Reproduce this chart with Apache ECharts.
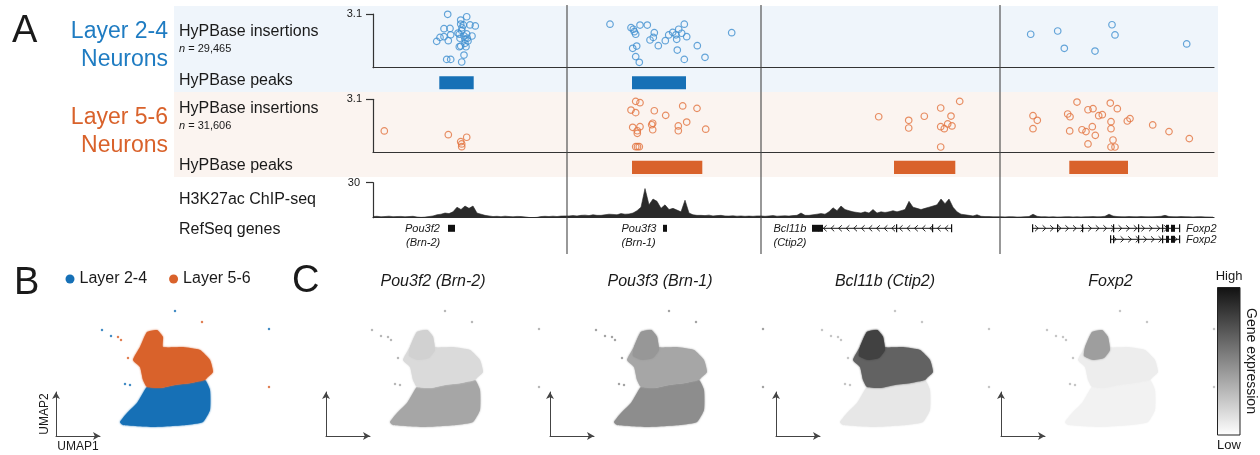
<!DOCTYPE html>
<html>
<head>
<meta charset="utf-8">
<title>HyPBase insertions in cortical layers</title>
<script src="https://cdn.jsdelivr.net/npm/echarts@6/dist/echarts.min.js"></script>
<style>
  html, body { margin: 0; padding: 0; background: #fff; }
  #chart { width: 1260px; height: 455px; }
</style>
</head>
<body>
<div id="chart"></div>
<script>
// ---------- data ----------
// track position (0 - 841), four loci; loci are separated at these positions
const trackMax = 841;
const locusBreaks = [194, 388, 627];

// HyPBase insertions, [position, value]
const l24Insertions = [
  [74.7, 3.08], [93.7, 2.94], [87.7, 2.75], [97, 2.47], [102.3, 2.41], [71, 2.25], [77, 2.27],
  [87.7, 2.52], [90.3, 2.47], [88.7, 2.14], [77.7, 1.9], [86.3, 1.93], [93.7, 1.95], [99, 1.83],
  [67, 1.75], [71, 1.79], [63.7, 1.52], [75.3, 1.56], [87, 1.7], [92, 1.64], [94.3, 1.7],
  [92, 1.41], [87.7, 1.25], [86.3, 1.21], [93, 1.21], [91, 0.73], [73.7, 0.48], [77.7, 0.48],
  [88.7, 0.33], [89, 2.3], [85, 2.0], [91, 1.83], [95, 1.54],
  [237, 2.51], [258, 2.31], [260.3, 2.22], [267, 2.46], [274.3, 2.46], [261.3, 2.08], [262.7, 1.93],
  [281.3, 2.02], [280.3, 1.75], [277, 1.6], [285.3, 1.27], [292.3, 1.56], [295.7, 1.89], [299.7, 2.04],
  [303, 1.9], [303.7, 1.64], [305.7, 2.22], [308.7, 1.99], [311.3, 2.51], [313.7, 1.79], [304.3, 1.02],
  [324.3, 1.27], [332, 0.6], [311.3, 0.48], [358.7, 2.02], [259.7, 1.12], [263.7, 1.25], [262.7, 0.64],
  [266.3, 0.31],
  [657.7, 1.93], [684.7, 2.12], [691.3, 1.12], [722, 0.96], [739, 2.48], [742, 1.89], [813.7, 1.37]
];
const l56Insertions = [
  [11.3, 1.25], [75.3, 1.03], [93.7, 0.88], [87.7, 0.62], [88.7, 0.49], [88.7, 0.33],
  [262.7, 2.98], [267, 2.9], [258, 2.47], [262.7, 2.32], [281.3, 2.43], [292.7, 2.16], [309.7, 2.71],
  [324, 2.57], [313.7, 1.77], [279.7, 1.7], [278.7, 1.61], [259.7, 1.46], [267, 1.5], [264.3, 1.26],
  [264.3, 1.11], [279.7, 1.32], [305.3, 1.54], [305.3, 1.26], [332.7, 1.35], [262.7, 0.33],
  [266.3, 0.33], [264.5, 0.33],
  [505.7, 2.08], [535.7, 1.87], [535.7, 1.42], [551.3, 2.11], [567.7, 2.59], [586.7, 2.98], [578, 2.12],
  [567.7, 1.5], [571.3, 1.38], [574.7, 1.66], [579, 1.54], [567.7, 0.31],
  [660, 2.14], [664.3, 1.87], [660, 1.38], [694.7, 2.24], [697, 2.08], [704, 2.94], [715, 2.49],
  [720, 2.55], [725.7, 2.14], [729.3, 2.2], [737.3, 2.88], [744.3, 2.55], [738, 1.79], [738, 1.38],
  [754.3, 1.83], [757, 1.97], [696.7, 1.25], [709, 1.32], [713, 1.21], [719.3, 1.5], [722.3, 0.99],
  [715, 0.49], [740, 0.72], [738, 0.31], [742, 0.31], [779.7, 1.6], [796, 1.21], [816.3, 0.8]
];

// HyPBase peaks, [start, end]
const l24Peaks = [[66.3, 100.7], [259, 313]];
const l56Peaks = [[259, 329.3], [521, 582.3], [696.3, 755]];

// H3K27ac ChIP-seq signal, one bin every chipStep positions
const chipStep = 4;
const chipSignal = [
  1, 1.2, 0.8, 1, 1.3, 0.9, 1, 1.1, 0.8, 1, 1.2, 0.6,
  0.3, 0.5, 1,
  1.5, 2.5, 3, 4, 3.5, 5, 9, 7, 10, 8, 10, 4, 3, 2, 1.5,
  1, 1.2, 0.9, 1.3, 1, 0.8, 1.1, 1, 0.7,
  0.2, 0.1, 0.3,
  1, 1.2, 1, 1.3, 1, 1.4, 1.5,
  1.5, 1.8, 1.5, 2, 2.2, 1.8, 2.5, 2,
  2, 2.5, 3, 2.8, 2.5, 3.5, 3, 3.2, 4, 6,
  9, 25, 11, 16, 14, 8, 11, 7, 8, 6.5, 5, 15, 4, 2.5, 2,
  2, 1.8, 2.2, 1.5, 1.8, 2, 1.5, 1.4, 1.6, 1.3, 1.5, 1.2, 1.4, 1.2, 1.5,
  1.5, 1.2, 1.5, 1.8, 1.3, 1.5, 1.6, 1.4, 1.8, 2, 4, 2,
  2, 2.5, 3, 3.5, 3, 5, 8.5, 6,
  10, 7, 6, 5, 4.5, 4, 5, 4, 7, 4,
  5, 4.5, 5, 6, 5, 6, 7, 14, 9, 8,
  7, 8, 9, 10, 11, 16, 12, 16, 9, 5,
  3, 2.5, 2, 1.5, 2.5, 1.2, 1, 1, 0.8, 0.8,
  0.8, 0.7, 0.9, 0.8, 0.6, 0.7, 0.9, 1, 3, 1.2,
  0.8, 0.9, 0.7, 0.8, 0.6, 0.7, 0.8, 0.9, 0.7, 0.8,
  0.7, 0.8, 0.9, 1, 0.8, 0.9, 1.2, 3, 1.4, 1,
  0.9, 0.8, 1, 0.9, 0.8, 1, 0.9, 0.8, 0.9, 1,
  1.2, 2, 1, 0.9, 0.8, 1, 0.9, 0.8, 0.7, 0.8, 0.9, 0.7, 0.6, 0.5
];

// RefSeq genes
const genes = [
  { row: 0, start: 75, end: 82, strand: -1, exons: [], thick: [[75, 82]] },
  { row: 0, start: 290, end: 294, strand: 1, exons: [], thick: [[290, 294]] },
  { row: 0, start: 439, end: 579, strand: -1, exons: [[523, 524], [559, 560], [578, 579]], thick: [[439, 450]] },
  { row: 0, start: 659, end: 807, strand: 1, exons: [[659, 660], [684, 685], [709, 710], [740, 741], [765, 766], [789, 790], [806, 807]], thick: [[793, 796], [798, 802]] },
  { row: 1, start: 737, end: 807, strand: 1, exons: [[737, 738], [740, 741], [765, 766], [789, 790], [806, 807]], thick: [[793, 796], [798, 802]] }
];

// UMAP embedding outlines, [UMAP1, UMAP2]
const umapUpper = [ // Layer 5-6 cells
  [8.4, 8.9], [9.1, 10.4], [10.1, 10.6], [10.7, 9.9], [10.7, 8.9], [12.7, 8.9], [14.4, 8.6], [15.4, 7.6],
  [15.7, 6.4], [15.1, 5.8], [14.9, 5.6], [13.5, 5.3], [11.9, 5.1], [10.5, 4.8], [9.1, 4.9], [8.7, 5.6],
  [8.4, 6.9], [7.7, 7.6]
];
const umapLower = [ // Layer 2-4 cells
  [9.1, 4.9], [10.5, 4.8], [11.9, 5.1], [13.5, 5.3], [14.9, 5.6], [15.4, 4.6], [15.4, 2.6], [14.7, 1.4],
  [13.1, 1.1], [9.7, 0.9], [6.7, 1.1], [6.4, 1.4], [7.1, 2.3], [8.1, 3.3], [8.7, 4.3]
];
const umapBump = [
  [8.4, 8.9], [9.1, 10.4], [10.1, 10.6], [10.7, 9.9], [10.9, 8.6], [10.3, 7.8], [9.2, 7.6], [8.3, 8.0]
];
const strayL24 = [[4.6, 10.6], [11.9, 12.5], [21.3, 10.7], [6.9, 5.2], [7.4, 5.1], [5.5, 10.0]];
const strayL56 = [[6.2, 9.9], [6.5, 9.6], [14.6, 11.4], [21.3, 4.9], [7.2, 7.8]];

// gene expression (0 = low, 1 = high) per UMAP region
const exprGenes = ['Pou3f2 (Brn-2)', 'Pou3f3 (Brn-1)', 'Bcl11b (Ctip2)', 'Foxp2'];
const exprLower = [0.38, 0.5, 0.08, 0.03];
const exprUpper = [0.14, 0.38, 0.7, 0.05];
const exprBump = [0.18, 0.45, 0.85, 0.42];

// ---------- chart ----------
const FONT = "'Liberation Sans', Arial, Helvetica, sans-serif";
const INK = '#1a1a1a';
const BLUE = '#1670b6', ORANGE = '#d9622b';
const BLUE_PT = '#3f8fcf', ORANGE_PT = '#e2733f';

function gray(level) {
  const v = Math.round(248 - level * 215);
  return 'rgb(' + v + ',' + v + ',' + v + ')';
}

const grids = [
  { left: 373, top: 14, width: 841, height: 53.7 },   // 0 layer 2-4 insertions
  { left: 373, top: 76.3, width: 841, height: 13 },   // 1 layer 2-4 peaks
  { left: 373, top: 99.3, width: 841, height: 53 },   // 2 layer 5-6 insertions
  { left: 373, top: 160.7, width: 841, height: 13.3 },// 3 layer 5-6 peaks
  { left: 373, top: 182.7, width: 841, height: 35 },  // 4 ChIP-seq
  { left: 373, top: 222.8, width: 841, height: 22 },  // 5 genes
  { left: 373, top: 5, width: 841, height: 249 }      // 6 locus separators
];
const umapLefts = [56, 326, 550, 776, 1001];
umapLefts.forEach(l => grids.push({ left: l, top: 392, width: 44, height: 44 }));

const xAxes = [], yAxes = [];
for (let i = 0; i < 7; i++) {
  const shown = i === 0 || i === 2 || i === 4;
  xAxes.push({
    gridIndex: i, type: 'value', min: 0, max: trackMax, show: shown,
    axisLine: { show: true, onZero: false, lineStyle: { color: '#333', width: 1.2 } },
    axisTick: { show: false }, axisLabel: { show: false }, splitLine: { show: false }
  });
}
function trackY(gridIndex, max, margin) {
  return {
    gridIndex, type: 'value', min: 0, max: max,
    axisLine: { show: true, lineStyle: { color: '#333', width: 1.2 } },
    axisTick: { show: true, length: 7, customValues: [max], lineStyle: { color: '#333', width: 1.2 } },
    axisLabel: { show: true, customValues: [max], fontSize: 11, color: INK, margin: margin, fontFamily: FONT },
    splitLine: { show: false }
  };
}
function hiddenY(gridIndex, max, inverse) {
  return { gridIndex, type: 'value', min: 0, max: max, inverse: !!inverse, show: false, splitLine: { show: false } };
}
yAxes.push(trackY(0, 3.1, 11), hiddenY(1, 1), trackY(2, 3.1, 11), hiddenY(3, 1), trackY(4, 30, 13), hiddenY(5, 2, true), hiddenY(6, 1));

umapLefts.forEach((l, k) => {
  const axisStyle = {
    type: 'value', gridIndex: 7 + k, min: 0, max: 4.4,
    axisLine: { show: true, onZero: false, symbol: ['none', 'arrow'], symbolSize: [6, 7], lineStyle: { color: '#444', width: 1 } },
    axisTick: { show: false }, axisLabel: { show: false }, splitLine: { show: false },
    nameLocation: 'middle', nameTextStyle: { fontSize: 12, color: INK, fontFamily: FONT }
  };
  xAxes.push(Object.assign({}, axisStyle, { name: k === 0 ? 'UMAP1' : '', nameGap: 5 }));
  yAxes.push(Object.assign({}, axisStyle, { name: k === 0 ? 'UMAP2' : '', nameGap: 5 }));
});

const series = [];

// insertions
function insertionSeries(gridIndex, data, color) {
  return {
    type: 'scatter', xAxisIndex: gridIndex, yAxisIndex: gridIndex, data: data,
    symbol: 'circle', symbolSize: 6.5,
    itemStyle: { color: 'rgba(0,0,0,0)', borderColor: color, borderWidth: 1.2 },
    z: 4
  };
}
series.push(insertionSeries(0, l24Insertions, BLUE_PT));
series.push(insertionSeries(2, l56Insertions, ORANGE_PT));

// peaks
function peakSeries(gridIndex, peaks, color) {
  return {
    type: 'custom', xAxisIndex: gridIndex, yAxisIndex: gridIndex, data: peaks,
    renderItem: function (params, api) {
      const p0 = api.coord([api.value(0), 1]);
      const p1 = api.coord([api.value(1), 0]);
      return {
        type: 'rect',
        shape: { x: p0[0], y: p0[1], width: p1[0] - p0[0], height: p1[1] - p0[1] },
        style: { fill: color }
      };
    }
  };
}
series.push(peakSeries(1, l24Peaks, BLUE));
series.push(peakSeries(3, l56Peaks, ORANGE));

// ChIP-seq
series.push({
  type: 'line', xAxisIndex: 4, yAxisIndex: 4,
  data: chipSignal.map((v, i) => [i * chipStep, v]),
  symbol: 'none', lineStyle: { color: '#2a2a2a', width: 0.6 },
  areaStyle: { color: '#2a2a2a', opacity: 1 }
});

// genes
series.push({
  type: 'custom', xAxisIndex: 5, yAxisIndex: 5,
  data: genes.map((g, i) => [g.start, g.row + 0.5, i]),
  renderItem: function (params, api) {
    const g = genes[api.value(2)];
    const y = api.coord([0, g.row + 0.5])[1];
    const x0 = api.coord([g.start, 0])[0];
    const x1 = api.coord([g.end, 0])[0];
    const stroke = '#111';
    const children = [{ type: 'line', shape: { x1: x0, y1: y, x2: x1, y2: y }, style: { stroke: stroke, lineWidth: 1 } }];
    if (x1 - x0 > 20) {
      for (let x = x0 + 5; x < x1 - 3; x += 7.6) {
        const d = g.strand > 0 ? -2 : 2;
        children.push({
          type: 'polyline',
          shape: { points: [[x + d, y - 3], [x - d * 0.6, y], [x + d, y + 3]] },
          style: { stroke: stroke, lineWidth: 0.9, fill: null }
        });
      }
    }
    g.exons.forEach(e => {
      const a = api.coord([e[0], 0])[0], b = api.coord([e[1], 0])[0];
      children.push({ type: 'rect', shape: { x: a, y: y - 4, width: Math.max(1.2, b - a), height: 8 }, style: { fill: stroke } });
    });
    g.thick.forEach(e => {
      const a = api.coord([e[0], 0])[0], b = api.coord([e[1], 0])[0];
      children.push({ type: 'rect', shape: { x: a, y: y - 3.5, width: b - a, height: 7 }, style: { fill: stroke } });
    });
    return { type: 'group', children: children };
  }
});

// locus separators
series.push({
  type: 'custom', xAxisIndex: 6, yAxisIndex: 6,
  data: locusBreaks.map(b => [b, 0]),
  renderItem: function (params, api) {
    const top = api.coord([api.value(0), 1]);
    const bottom = api.coord([api.value(0), 0]);
    return { type: 'line', shape: { x1: top[0], y1: top[1], x2: bottom[0], y2: bottom[1] }, style: { stroke: '#444', lineWidth: 1.1 } };
  },
  z: 3
});

// UMAP polygons
function polygonSeries(name, gridIndex, polys, colors) {
  return {
    type: 'custom', name: name, xAxisIndex: gridIndex, yAxisIndex: gridIndex, clip: false,
    itemStyle: { color: colors[0] },
    data: polys.map((p, i) => [1, 1, i]),
    renderItem: function (params, api) {
      const i = api.value(2);
      return {
        type: 'polygon',
        shape: { points: polys[i].map(pt => api.coord(pt)), smooth: 0.15 },
        style: { fill: colors[i], shadowBlur: 2, shadowColor: colors[i] }
      };
    }
  };
}
function straySeries(name, gridIndex, data, color) {
  return {
    type: 'scatter', name: name, xAxisIndex: gridIndex, yAxisIndex: gridIndex, data: data,
    symbolSize: 2.5, itemStyle: { color: color }, clip: false
  };
}
series.push(polygonSeries('Layer 2-4', 7, [umapLower], [BLUE]));
series.push(polygonSeries('Layer 5-6', 7, [umapUpper], [ORANGE]));
series.push(straySeries('Layer 2-4', 7, strayL24, BLUE));
series.push(straySeries('Layer 5-6', 7, strayL56, ORANGE));

exprGenes.forEach((g, k) => {
  const gi = 8 + k;
  series.push(polygonSeries(g, gi, [umapLower, umapUpper, umapBump],
    [gray(exprLower[k]), gray(exprUpper[k]), gray(exprBump[k])]));
  series.push(straySeries(g + ' outliers', gi, strayL24.concat(strayL56), gray(Math.max(exprLower[k], 0.3))));
});

// ---------- text and decorations ----------
function txt(text, x, y, opts) {
  return {
    type: 'text', x: x, y: y, silent: true, z: 10,
    rotation: (opts && opts.rotation) || 0,
    style: Object.assign({
      text: text, fill: INK, font: '16px ' + FONT, textAlign: 'left', verticalAlign: 'middle'
    }, opts && opts.style)
  };
}
const italic = s => ({ font: 'italic ' + s + 'px ' + FONT });
const graphic = [
  { type: 'rect', shape: { x: 174, y: 6, width: 1044, height: 86 }, style: { fill: '#eff5fb' }, z: -10, silent: true },
  { type: 'rect', shape: { x: 174, y: 92, width: 1044, height: 85 }, style: { fill: '#fbf4f0' }, z: -10, silent: true },
  txt('A', 12, 32, { style: { font: '38px ' + FONT } }),
  txt('B', 14, 284, { style: { font: '38px ' + FONT } }),
  txt('C', 292, 282, { style: { font: '38px ' + FONT } }),
  txt('Layer 2-4', 168, 32, { style: { font: '23px ' + FONT, fill: '#1f7cc2', textAlign: 'right' } }),
  txt('Neurons', 168, 60, { style: { font: '23px ' + FONT, fill: '#1f7cc2', textAlign: 'right' } }),
  txt('Layer 5-6', 168, 118, { style: { font: '23px ' + FONT, fill: '#d9622b', textAlign: 'right' } }),
  txt('Neurons', 168, 146, { style: { font: '23px ' + FONT, fill: '#d9622b', textAlign: 'right' } }),
  txt('HyPBase insertions', 179, 32),
  txt('{i|n} = 29,465', 179, 49, { style: { font: '11px ' + FONT, rich: { i: { font: 'italic 11px ' + FONT, fill: INK } } } }),
  txt('HyPBase peaks', 179, 81),
  txt('HyPBase insertions', 179, 109),
  txt('{i|n} = 31,606', 179, 126, { style: { font: '11px ' + FONT, rich: { i: { font: 'italic 11px ' + FONT, fill: INK } } } }),
  txt('HyPBase peaks', 179, 166),
  txt('H3K27ac ChIP-seq', 179, 199.5),
  txt('RefSeq genes', 179, 229.5),
  txt('Pou3f2', 405, 228.5, { style: italic(11) }),
  txt('(Brn-2)', 406, 242.5, { style: italic(11) }),
  txt('Pou3f3', 621.5, 228.5, { style: italic(11) }),
  txt('(Brn-1)', 621.5, 242.5, { style: italic(11) }),
  txt('Bcl11b', 773.5, 228.5, { style: italic(11) }),
  txt('(Ctip2)', 773.5, 242.5, { style: italic(11) }),
  txt('Foxp2', 1186, 228.5, { style: italic(11) }),
  txt('Foxp2', 1186, 240, { style: italic(11) }),
  { type: 'rect', shape: { x: 1217.5, y: 287.5, width: 22.5, height: 147.5 }, z: 10, silent: true,
    style: { stroke: '#222', lineWidth: 1,
      fill: new echarts.graphic.LinearGradient(0, 0, 0, 1, [{ offset: 0, color: '#111' }, { offset: 1, color: '#fff' }]) } },
  txt('High', 1229, 276, { style: { font: '13px ' + FONT, textAlign: 'center' } }),
  txt('Low', 1229, 445, { style: { font: '13px ' + FONT, textAlign: 'center' } }),
  txt('Gene expression', 1251, 361, { rotation: -Math.PI / 2, style: { font: '14px ' + FONT, textAlign: 'center' } })
];
const titleX = [433, 660, 885, 1110.5];
exprGenes.forEach((g, k) => graphic.push(txt(g, titleX[k], 282, { style: { font: 'italic 16px ' + FONT, textAlign: 'center' } })));

const chart = echarts.init(document.getElementById('chart'));
chart.setOption({
  animation: false,
  backgroundColor: '#fff',
  textStyle: { fontFamily: FONT },
  grid: grids,
  xAxis: xAxes,
  yAxis: yAxes,
  legend: {
    left: 65.5, top: 271, padding: 0, itemWidth: 9, itemHeight: 9, itemGap: 22, icon: 'circle', selectedMode: false,
    textStyle: { fontSize: 16, color: INK, fontFamily: FONT },
    data: [
      { name: 'Layer 2-4', itemStyle: { color: BLUE } },
      { name: 'Layer 5-6', itemStyle: { color: ORANGE } }
    ]
  },
  series: series,
  graphic: graphic
});
</script>
</body>
</html>
